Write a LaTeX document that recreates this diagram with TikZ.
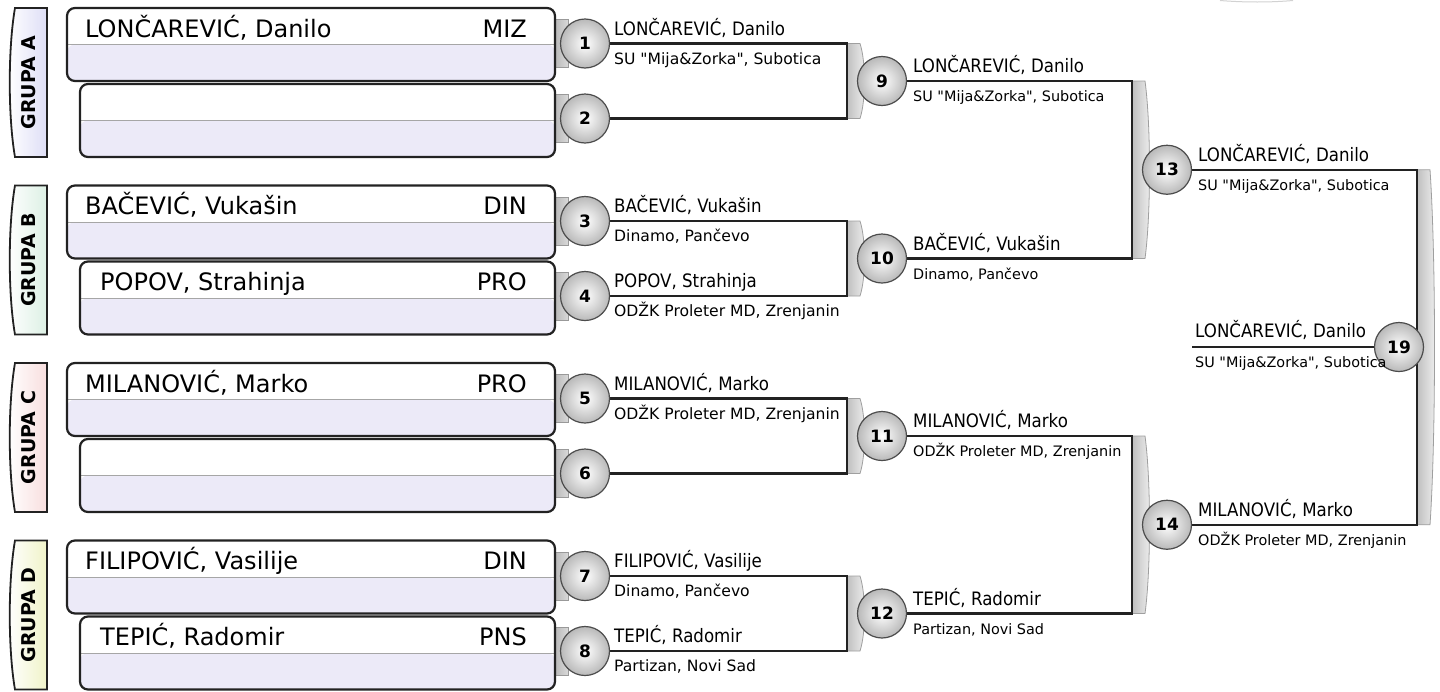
\documentclass[tikz,border=0pt]{standalone}
\usepackage{fontspec}
\setmainfont{DejaVu Sans}
\newfontfamily\condfont{DejaVu Sans}[FakeStretch=0.9]
\usetikzlibrary{calc}
\pgfdeclarelayer{bg}
\pgfsetlayers{bg,main}
\definecolor{lav}{HTML}{ECEAF8}
\definecolor{tabA}{HTML}{DEDEF6}
\definecolor{tabB}{HTML}{DCF0E4}
\definecolor{tabC}{HTML}{F8DEDE}
\definecolor{tabD}{HTML}{F0F3C8}
\definecolor{ink}{HTML}{222222}
\newcommand\dq{\XeTeXglyph\XeTeXcharglyph"22\relax}
\tikzset{
  entrybox/.style={draw=ink, line width=2.2pt, rounded corners=8pt, minimum width=#1,
    minimum height=73pt, inner sep=0pt,
    path picture={\fill[lav] (path picture bounding box.west) rectangle (path picture bounding box.south east);
      \draw[gray!70, line width=1pt] (path picture bounding box.west) -- (path picture bounding box.east);}},
  ball/.style={circle, minimum size=49pt, inner sep=0pt, draw=black!70, line width=1.2pt,
    inner color=white, outer color=gray!55, font=\fontsize{17}{17}\selectfont\bfseries},
  bline/.style={draw=ink, line width=2.2pt},
  stub/.style={left color=gray!55, right color=gray!30, draw=gray!80, line width=0.8pt},
  barshade/.style={left color=gray!50, right color=gray!12, draw=gray!75, line width=0.8pt},
  bigname/.style={anchor=base west, inner sep=0pt, font=\fontsize{24}{26}\selectfont},
  bigcode/.style={anchor=base east, inner sep=0pt, font=\fontsize{24}{26}\selectfont},
  nm/.style={anchor=base west, inner sep=0pt, font=\condfont\fontsize{18.5}{20}\selectfont},
  cl/.style={anchor=base west, inner sep=0pt, font=\fontsize{14.4}{16}\selectfont},
  clone/.style={anchor=base west, inner sep=0pt, font=\fontsize{15.6}{17}\selectfont},
  grp/.style={rotate=90, inner sep=0pt, font=\fontsize{19}{20}\selectfont\bfseries},
}
\newcommand\gtab[3]{% y0, colour, name
  \shade[left color=white, right color=#2, draw=ink, line width=1.8pt]
    (47,#1) -- (15,#1) .. controls (8,#1+40) and (8,#1+109) .. (15,#1+149) -- (47,#1+149) -- cycle;
  \node[grp] (#3) at (29,#1+74.5) {GRUPA #3};}
\newcommand\gbar[3]{% x, ytop, ybot
  \shade[barshade] (#1,#2) -- (#1+13,#2) .. controls (#1+19,{0.75*#2+0.25*#3}) and (#1+19,{0.25*#2+0.75*#3}) .. (#1+13,#3) -- (#1,#3) -- cycle;}
\newcommand\rlab[6]{% style, id, x, liney, name, club
  \node[nm] (n#2) at (#3,#4-8.5) {#5};
  \node[#1] (s#2) at (#3,#4+20.5) {#6};}
\begin{document}
\begin{tikzpicture}[x=1pt,y=-1pt]
\useasboundingbox (0,0) rectangle (1440,691);

% group tabs
\gtab{8}{tabA}{A}
\gtab{185.5}{tabB}{B}
\gtab{363}{tabC}{C}
\gtab{540.5}{tabD}{D}

% entry boxes
\node[entrybox=488pt] (b1) at (311,44.5) {};
\node[entrybox=475pt] (b2) at (317.5,120.5) {};
\node[entrybox=488pt] (b3) at (311,222) {};
\node[entrybox=475pt] (b4) at (317.5,298) {};
\node[entrybox=488pt] (b5) at (311,399.5) {};
\node[entrybox=475pt] (b6) at (317.5,475.5) {};
\node[entrybox=488pt] (b7) at (311,577) {};
\node[entrybox=475pt] (b8) at (317.5,653) {};

\node[bigname] (t1) at (85,37) {LONČAREVIĆ, Danilo};
\node[bigcode] (k1) at (527,37) {MIZ};
\node[bigname] (t3) at (85,214.5) {BAČEVIĆ, Vukašin};
\node[bigcode] (k3) at (527,214.5) {DIN};
\node[bigname] (t4) at (100,290.5) {POPOV, Strahinja};
\node[bigcode] (k4) at (527,290.5) {PRO};
\node[bigname] (t5) at (85,392) {MILANOVIĆ, Marko};
\node[bigcode] (k5) at (527,392) {PRO};
\node[bigname] (t7) at (85,569.5) {FILIPOVIĆ, Vasilije};
\node[bigcode] (k7) at (527,569.5) {DIN};
\node[bigname] (t8) at (100,645.5) {TEPIĆ, Radomir};
\node[bigcode] (k8) at (527,645.5) {PNS};

% match circles
\node[ball] (c1) at (585,43.5) {1};
\node[ball] (c2) at (585,118.5) {2};
\node[ball] (c3) at (585,221) {3};
\node[ball] (c4) at (585,296) {4};
\node[ball] (c5) at (585,398.5) {5};
\node[ball] (c6) at (585,473.5) {6};
\node[ball] (c7) at (585,576) {7};
\node[ball] (c8) at (585,651) {8};
\node[ball] (c9) at (882,81) {9};
\node[ball] (c10) at (882,258.5) {10};
\node[ball] (c11) at (882,436) {11};
\node[ball] (c12) at (882,613.5) {12};
\node[ball] (c13) at (1167,169.75) {13};
\node[ball] (c14) at (1167,524.75) {14};
\node[ball] (c19) at (1399,347) {19};

\coordinate (xa) at (847,0);
\coordinate (xb) at (1132,0);
\coordinate (xc) at (1417,0);
\coordinate (f0) at (1192,347);

\begin{pgfonlayer}{bg}
  \fill[white] (0,0) rectangle (1440,691);
  \draw[gray!35, line width=1pt] (1220,0.5) .. controls (1245,2.5) and (1270,2.5) .. (1293,0.5);
  \foreach \y in {43.5,118.5,221,296,398.5,473.5,576,651}
    \shade[stub] (555,\y-24) rectangle (568,\y+24);
  \gbar{847}{43.5}{118.5}
  \gbar{847}{221}{296}
  \gbar{847}{398.5}{473.5}
  \gbar{847}{576}{651}
  \gbar{1132}{81}{258.5}
  \gbar{1132}{436}{613.5}
  \gbar{1417}{169.75}{524.75}
  \draw[bline] (c1) -- (c1 -| xa) -- (c2 -| xa) -- (c2);
  \draw[bline] (c3) -- (c3 -| xa) -- (c4 -| xa) -- (c4);
  \draw[bline] (c5) -- (c5 -| xa) -- (c6 -| xa) -- (c6);
  \draw[bline] (c7) -- (c7 -| xa) -- (c8 -| xa) -- (c8);
  \draw[bline] (c9) -- (c9 -| xb) -- (c10 -| xb) -- (c10);
  \draw[bline] (c11) -- (c11 -| xb) -- (c12 -| xb) -- (c12);
  \draw[bline] (c13) -- (c13 -| xc) -- (c14 -| xc) -- (c14);
  \draw[bline] (f0) -- (c19);
\end{pgfonlayer}

% labels
\rlab{clone}{1}{614}{43.5}{LONČAREVIĆ, Danilo}{SU \dq Mija\&Zorka\dq, Subotica}
\rlab{clone}{3}{614}{221}{BAČEVIĆ, Vukašin}{Dinamo, Pančevo}
\rlab{clone}{4}{614}{296}{POPOV, Strahinja}{ODŽK Proleter MD, Zrenjanin}
\rlab{clone}{5}{614}{398.5}{MILANOVIĆ, Marko}{ODŽK Proleter MD, Zrenjanin}
\rlab{clone}{7}{614}{576}{FILIPOVIĆ, Vasilije}{Dinamo, Pančevo}
\rlab{clone}{8}{614}{651}{TEPIĆ, Radomir}{Partizan, Novi Sad}
\rlab{cl}{9}{913}{81}{LONČAREVIĆ, Danilo}{SU \dq Mija\&Zorka\dq, Subotica}
\rlab{cl}{10}{913}{258.5}{BAČEVIĆ, Vukašin}{Dinamo, Pančevo}
\rlab{cl}{11}{913}{436}{MILANOVIĆ, Marko}{ODŽK Proleter MD, Zrenjanin}
\rlab{cl}{12}{913}{613.5}{TEPIĆ, Radomir}{Partizan, Novi Sad}
\rlab{cl}{13}{1198}{169.75}{LONČAREVIĆ, Danilo}{SU \dq Mija\&Zorka\dq, Subotica}
\rlab{cl}{14}{1198}{524.75}{MILANOVIĆ, Marko}{ODŽK Proleter MD, Zrenjanin}
\node[nm] (n19) at (1195,337) {LONČAREVIĆ, Danilo};
\node[cl] (s19) at (1195,367.5) {SU \dq Mija\&Zorka\dq, Subotica};
\end{tikzpicture}
\end{document}
